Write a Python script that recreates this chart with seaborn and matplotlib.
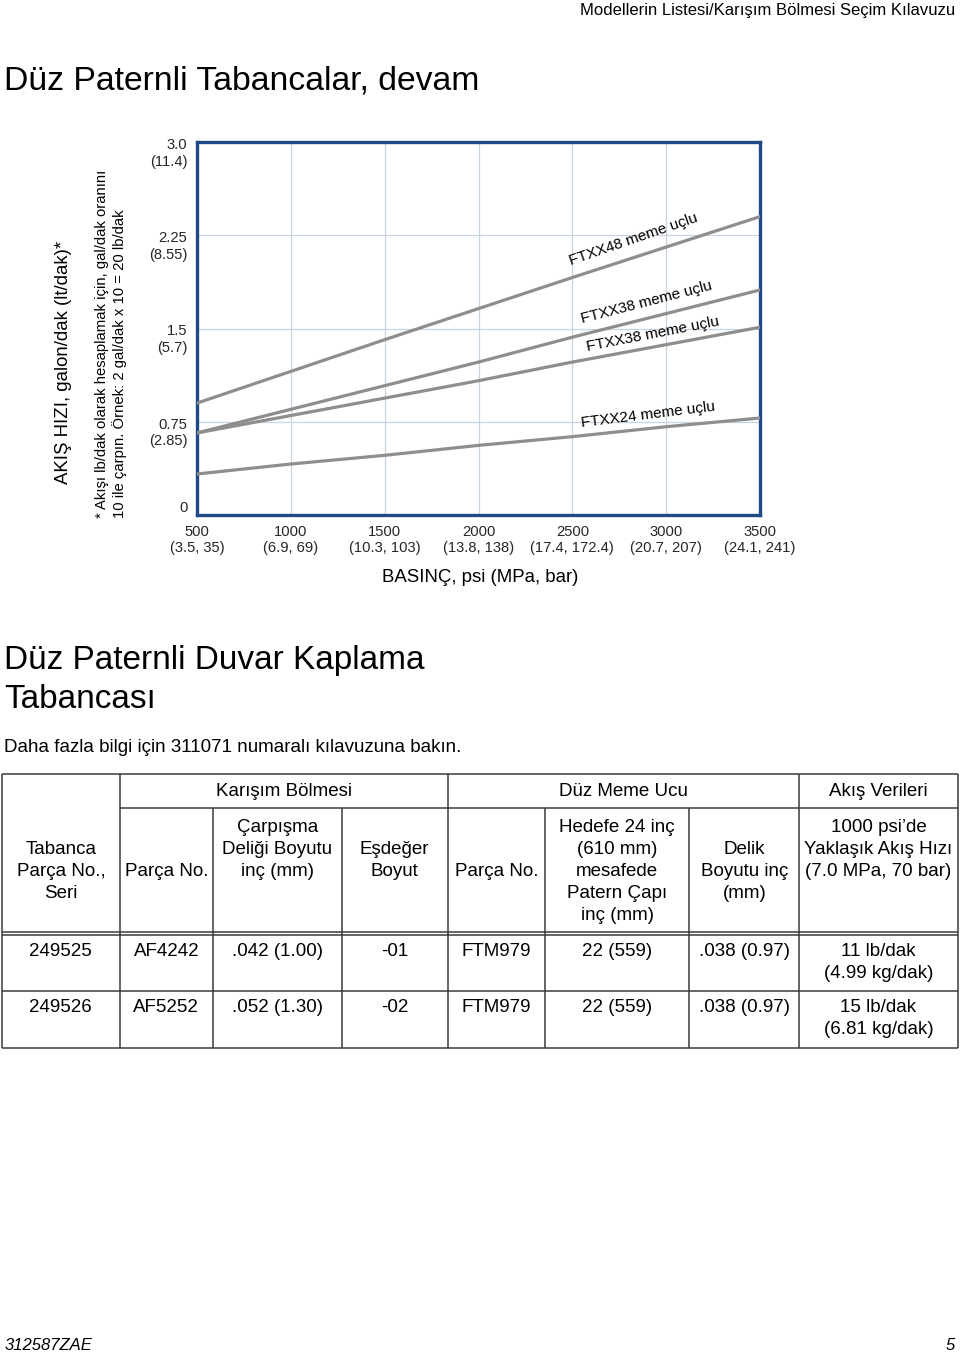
import matplotlib
matplotlib.use("Agg")
import matplotlib.pyplot as plt
import pandas as pd
import seaborn as sns

# ---------------- data ----------------
pressure_psi = [500, 1000, 1500, 2000, 2500, 3000, 3500]
pressure_tick_labels = ["500\n(3.5, 35)", "1000\n(6.9, 69)", "1500\n(10.3, 103)",
                        "2000\n(13.8, 138)", "2500\n(17.4, 172.4)", "3000\n(20.7, 207)",
                        "3500\n(24.1, 241)"]
flow_ticks = [0, 0.75, 1.5, 2.25, 3.0]
flow_tick_labels = ["0", "\n0.75\n(2.85)", "\n1.5\n(5.7)", "\n2.25\n(8.55)", "\n3.0\n(11.4)"]

series_ids = ["FTXX48", "FTXX38-a", "FTXX38-b", "FTXX24"]
series_labels = ["FTXX48 meme uçlu", "FTXX38 meme uçlu", "FTXX38 meme uçlu", "FTXX24 meme uçlu"]
flow_ftxx48 = [0.90, 1.155, 1.41, 1.66, 1.91, 2.155, 2.40]
flow_ftxx38_a = [0.66, 0.85, 1.04, 1.23, 1.43, 1.62, 1.81]
flow_ftxx38_b = [0.66, 0.80, 0.94, 1.08, 1.23, 1.37, 1.51]
flow_ftxx24 = [0.33, 0.41, 0.48, 0.56, 0.63, 0.71, 0.78]

group_headers = ["Karışım Bölmesi", "Düz Meme Ucu", "Akış Verileri"]
column_headers = ["Tabanca\nParça No.,\nSeri", "Parça No.", "Çarpışma\nDeliği Boyutu\ninç (mm)",
                  "Eşdeğer\nBoyut", "Parça No.",
                  "Hedefe 24 inç\n(610 mm)\nmesafede\nPatern Çapı\ninç (mm)",
                  "Delik\nBoyutu inç\n(mm)", "1000 psi’de\nYaklaşık Akış Hızı\n(7.0 MPa, 70 bar)"]
row_1 = ["249525", "AF4242", ".042 (1.00)", "-01", "FTM979", "22 (559)", ".038 (0.97)",
         "11 lb/dak\n(4.99 kg/dak)"]
row_2 = ["249526", "AF5252", ".052 (1.30)", "-02", "FTM979", "22 (559)", ".038 (0.97)",
         "15 lb/dak\n(6.81 kg/dak)"]

# ---------------- style ----------------
sns.set_theme(style="white")
plt.rcParams["font.family"] = ["Liberation Sans", "DejaVu Sans"]
plt.rcParams["text.color"] = "black"

W, H = 960, 1356
fig = plt.figure(figsize=(W / 100, H / 100), dpi=100)
fig.patch.set_facecolor("white")


def fx(px):
    return px / W


def fy(py):
    return 1 - py / H


# overlay axes in pixel coordinates for the table
tab = fig.add_axes([0, 0, 1, 1])
tab.set_xlim(0, W)
tab.set_ylim(H, 0)
tab.axis("off")
tab.patch.set_alpha(0)

# ---------------- chart ----------------
ax_l, ax_r, ax_t, ax_b = 197, 760, 142, 515
ax = fig.add_axes([fx(ax_l), fy(ax_b), (ax_r - ax_l) / W, (ax_b - ax_t) / H])

frames = []
for sid, vals in zip(series_ids, [flow_ftxx48, flow_ftxx38_a, flow_ftxx38_b, flow_ftxx24]):
    frames.append(pd.DataFrame({"psi": pressure_psi, "flow": vals, "series": sid}))
df = pd.concat(frames, ignore_index=True)

sns.lineplot(data=df, x="psi", y="flow", hue="series", palette=["#8e8e8e"] * 4,
             linewidth=2.3, legend=False, ax=ax, zorder=3)

ax.set_xlim(500, 3500)
ax.set_ylim(0, 3.0)
ax.set_xticks(pressure_psi)
ax.set_xticklabels(pressure_tick_labels, fontsize=10.6, linespacing=1.25)
ax.set_yticks(flow_ticks)
ax.set_yticklabels(flow_tick_labels, fontsize=10.6, linespacing=1.25, ha="right")
ax.get_yticklabels()[0].set_va("bottom")
ax.tick_params(axis="both", length=0)
ax.tick_params(axis="x", pad=7)
ax.tick_params(axis="y", pad=7)
ax.grid(True, color="#c8d4df", linewidth=0.9)
ax.set_axisbelow(True)
for s in ax.spines.values():
    s.set_color("#1f4a86")
    s.set_linewidth(2.4)
ax.set_xlabel("")
ax.set_ylabel("")

label_x = [2493, 2555, 2580, 2551]
label_y = [2.01, 1.547, 1.32, 0.71]
label_rot = [19, 14.5, 11, 7]
for lbl, x, y, r in zip(series_labels, label_x, label_y, label_rot):
    ax.text(x, y, lbl, rotation=r, rotation_mode="anchor", ha="left", va="baseline",
            fontsize=11, color="black", zorder=4)

fig.text(fx(480), fy(577), "BASINÇ, psi (MPa, bar)", ha="center", va="center", fontsize=13.4)
fig.text(fx(63), fy(362), "AKIŞ HIZI, galon/dak (lt/dak)*", rotation=90,
         ha="center", va="center", fontsize=13.4)
fig.text(fx(111), fy(518),
         "* Akışı lb/dak olarak hesaplamak için, gal/dak oranını\n"
         "10 ile çarpın. Örnek: 2 gal/dak x 10 = 20 lb/dak",
         rotation=90, ha="center", va="bottom", fontsize=10.7, multialignment="left",
         linespacing=1.2)

# ---------------- page texts ----------------
fig.text(fx(955), fy(11), "Modellerin Listesi/Karışım Bölmesi Seçim Kılavuzu",
         ha="right", va="center", fontsize=12)
fig.text(fx(4), fy(81), "Düz Paternli Tabancalar, devam", ha="left", va="center", fontsize=24.3)
fig.text(fx(4), fy(661), "Düz Paternli Duvar Kaplama", ha="left", va="center", fontsize=24)
fig.text(fx(4), fy(700), "Tabancası", ha="left", va="center", fontsize=24)
fig.text(fx(4), fy(747), "Daha fazla bilgi için 311071 numaralı kılavuzuna bakın.",
         ha="left", va="center", fontsize=13.5)
fig.text(fx(5), fy(1346), "312587ZAE", ha="left", va="center", fontsize=12, style="italic")
fig.text(fx(955), fy(1346), "5", ha="right", va="center", fontsize=12, style="italic")

# ---------------- table ----------------
col_edges = [1.7, 120, 212.7, 341.7, 447.7, 545.3, 689.3, 799.3, 957.7]
t_top, t_sub, t_hd1, t_hd2, t_r1, t_bot = 774, 808.3, 931.7, 935, 990.7, 1048.3
lc, lw = "#3a3a3a", 1.1


def hline(y, x0, x1):
    tab.plot([x0, x1], [y, y], color=lc, lw=lw, solid_capstyle="butt")


def vline(x, y0, y1):
    tab.plot([x, x], [y0, y1], color=lc, lw=lw, solid_capstyle="butt")


L, R = col_edges[0], col_edges[-1]
for y in (t_top, t_hd1, t_hd2, t_r1, t_bot):
    hline(y, L, R)
hline(t_sub, col_edges[1], R)
for i, x in enumerate(col_edges):
    if i in (0, 1, 4, 7, 8):
        vline(x, t_top, t_bot)
    else:
        vline(x, t_sub, t_bot)

fs = 13.5
step = 22
group_spans = [(1, 4), (4, 7), (7, 8)]
for g, (a, b) in zip(group_headers, group_spans):
    tab.text((col_edges[a] + col_edges[b]) / 2, 791.5, g, ha="center", va="center", fontsize=fs)

header_centers = [871, 871, 849, 860, 871, 871, 871, 849]
for i, (hdr, yc) in enumerate(zip(column_headers, header_centers)):
    lines = hdr.split("\n")
    n = len(lines)
    cx = (col_edges[i] + col_edges[i + 1]) / 2
    for k, line in enumerate(lines):
        tab.text(cx, yc + (k - (n - 1) / 2) * step, line, ha="center", va="center", fontsize=fs)

for row, top in ((row_1, t_hd2), (row_2, t_r1)):
    for i, cell in enumerate(row):
        cx = (col_edges[i] + col_edges[i + 1]) / 2
        for k, line in enumerate(cell.split("\n")):
            tab.text(cx, top + 16.3 + k * step, line, ha="center", va="center", fontsize=fs)

fig.savefig("out.png", dpi=100)
